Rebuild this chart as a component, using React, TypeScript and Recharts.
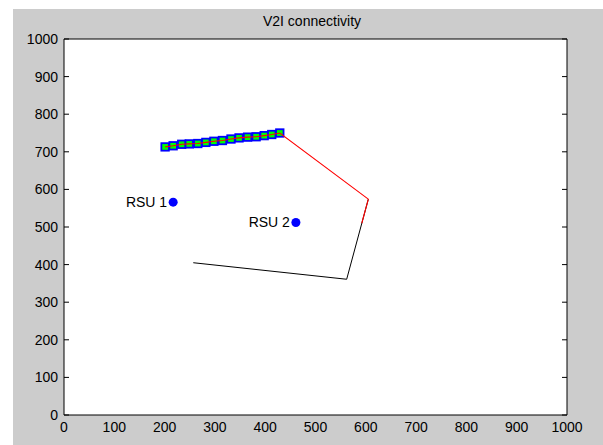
import React from "react";
import {
  ComposedChart,
  XAxis,
  YAxis,
  Line,
  Scatter,
  CartesianGrid,
} from "recharts";

// ---- data ----
const tickValues = [0, 100, 200, 300, 400, 500, 600, 700, 800, 900, 1000];

// vehicle positions sampled (green squares)
const sampleX = [201, 217, 234, 249, 266, 282, 298, 315, 332, 348, 365, 382, 398, 413, 429];
const sampleY = [713, 716, 720, 721, 722, 725, 728, 730, 734, 737, 739, 740, 743, 746, 750];

// remaining route (black)
const routeX = [605, 562, 257];
const routeY = [574, 361, 405];

// travelled part after samples (red)
const travelX = [429, 605, 592];
const travelY = [750, 574, 510];

// road side units
const rsuNames = ["RSU 1", "RSU 2"];
const rsuX = [217, 461];
const rsuY = [566, 512];

const samples = sampleX.map((x, i) => ({ x, y: sampleY[i] }));
const route = routeX.map((x, i) => ({ x, y: routeY[i] }));
const travel = [...samples, ...travelX.slice(1).map((x, i) => ({ x, y: travelY[i + 1] }))];
const rsus = rsuNames.map((name, i) => ({ name, x: rsuX[i], y: rsuY[i] }));

const FONT = "'Liberation Sans', Arial, sans-serif";
const tickStyle = { fontSize: 14, fill: "#000", fontFamily: FONT };

const SquareShape = (props: any) => {
  const { cx, cy } = props;
  return (
    <rect
      x={cx - 3.75}
      y={cy - 3.75}
      width={7.5}
      height={7.5}
      fill="#00ff00"
      stroke="#0000ff"
      strokeWidth={1.8}
    />
  );
};

const RsuShape = (props: any) => {
  const { cx, cy, payload } = props;
  return (
    <g>
      <circle cx={cx} cy={cy} r={4.5} fill="#0000ff" />
      <text
        x={cx - 6}
        y={cy}
        textAnchor="end"
        dominantBaseline="central"
        fontSize={14}
        fontFamily={FONT}
        fill="#000"
      >
        {payload.name}
      </text>
    </g>
  );
};

export default function App() {
  return (
    <div style={{ position: "absolute", left: 0, top: 0, width: 603, height: 445, background: "#fff" }}>
      <div
        style={{
          position: "absolute",
          left: 13,
          top: 9,
          width: 590,
          height: 436,
          background: "#cccccc",
        }}
      >
        <ComposedChart
          width={590}
          height={436}
          margin={{ top: 30, right: 36, bottom: 0, left: 0 }}
        >
          <CartesianGrid fill="#ffffff" horizontal={false} vertical={false} />
          <XAxis
            type="number"
            dataKey="x"
            domain={[0, 1000]}
            ticks={tickValues}
            interval={0}
            allowDataOverflow
            height={30}
            tickLine={false}
            tickSize={6}
            tickMargin={1}
            axisLine={{ stroke: "#000", strokeWidth: 1 }}
            tick={tickStyle}
          />
          <XAxis
            xAxisId="bottomTicks"
            type="number"
            orientation="bottom"
            mirror
            domain={[0, 1000]}
            ticks={tickValues}
            interval={0}
            allowDataOverflow
            height={6}
            tickSize={5}
            tickFormatter={() => ""}
            axisLine={false}
            tickLine={{ stroke: "#000" }}
          />
          <XAxis
            xAxisId="top"
            type="number"
            orientation="top"
            mirror
            domain={[0, 1000]}
            ticks={tickValues}
            interval={0}
            allowDataOverflow
            height={6}
            tickSize={5}
            tickFormatter={() => ""}
            axisLine={{ stroke: "#000" }}
            tickLine={{ stroke: "#000" }}
          />
          <YAxis
            type="number"
            dataKey="y"
            domain={[0, 1000]}
            ticks={tickValues}
            interval={0}
            allowDataOverflow
            width={51}
            tickLine={false}
            tickSize={5}
            tickMargin={1}
            axisLine={{ stroke: "#000", strokeWidth: 1 }}
            tick={tickStyle}
          />
          <YAxis
            yAxisId="leftTicks"
            type="number"
            orientation="left"
            mirror
            domain={[0, 1000]}
            ticks={tickValues}
            interval={0}
            allowDataOverflow
            width={6}
            tickSize={5}
            tickFormatter={() => ""}
            axisLine={false}
            tickLine={{ stroke: "#000" }}
          />
          <YAxis
            yAxisId="right"
            type="number"
            orientation="right"
            mirror
            domain={[0, 1000]}
            ticks={tickValues}
            interval={0}
            allowDataOverflow
            width={6}
            tickSize={5}
            tickFormatter={() => ""}
            axisLine={{ stroke: "#000" }}
            tickLine={{ stroke: "#000" }}
          />
          <Line
            data={route}
            dataKey="y"
            stroke="#000000"
            strokeWidth={1}
            dot={false}
            activeDot={false}
            isAnimationActive={false}
            zIndex={400}
          />
          <Scatter
            data={samples}
            dataKey="y"
            shape={<SquareShape />}
            isAnimationActive={false}
            zIndex={500}
          />
          <Line
            data={travel}
            dataKey="y"
            stroke="#ff0000"
            strokeWidth={1.1}
            dot={false}
            activeDot={false}
            isAnimationActive={false}
            zIndex={700}
          />
          <Scatter
            data={rsus}
            dataKey="y"
            shape={<RsuShape />}
            isAnimationActive={false}
            zIndex={800}
          />
        </ComposedChart>
      </div>
      <div
        style={{
          position: "absolute",
          left: 212,
          top: 13,
          width: 200,
          textAlign: "center",
          fontFamily: FONT,
          fontSize: 14,
          lineHeight: "16px",
          color: "#000",
        }}
      >
        V2I connectivity
      </div>
    </div>
  );
}
